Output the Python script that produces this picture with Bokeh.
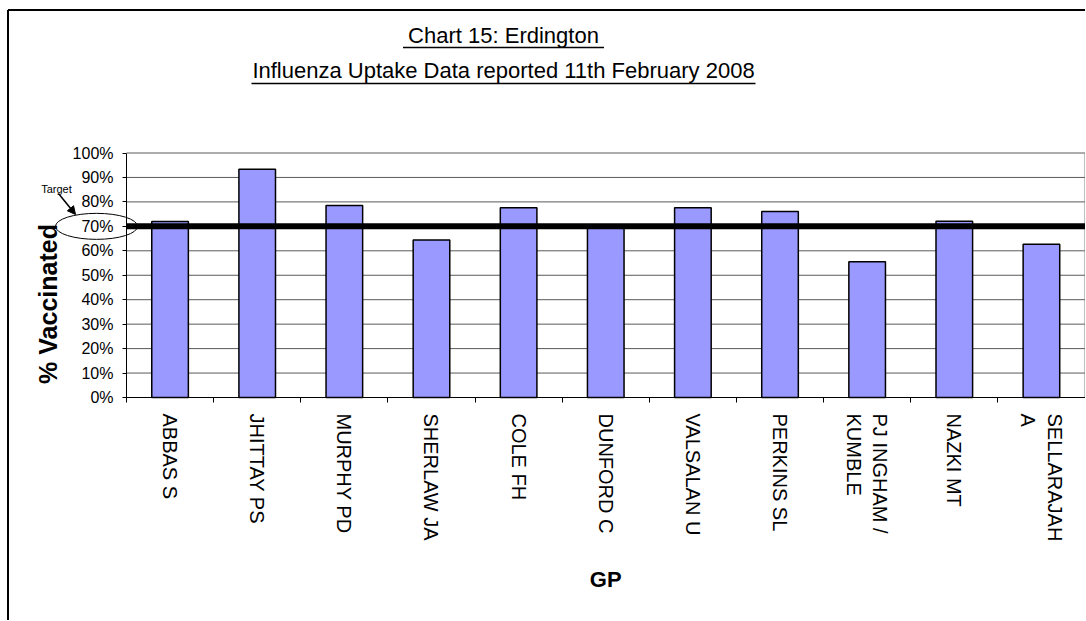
import math
from bokeh.plotting import figure
from bokeh.models import (ColumnDataSource, Range1d, LinearAxis, FixedTicker,
                          NumeralTickFormatter, Arrow, NormalHead)
from bokeh.core.properties import value
from bokeh.embed import file_html
from bokeh.resources import INLINE

# ---------------- data ----------------
title_text = "Chart 15: Erdington"
subtitle_text = "Influenza Uptake Data reported 11th February 2008"
gps = ["ABBAS S", "JHITTAY PS", "MURPHY PD", "SHERLAW JA", "COLE FH", "DUNFORD C",
       "VALSALAN U", "PERKINS SL", "PJ INGHAM /\nKUMBLE", "NAZKI MT", "SELLARAJAH\nA"]
uptake = [0.72, 0.934, 0.785, 0.644, 0.776, 0.705, 0.776, 0.761, 0.555, 0.721, 0.627]
target = 0.70
y_ticks = [0.0, 0.1, 0.2, 0.3, 0.4, 0.5, 0.6, 0.7, 0.8, 0.9, 1.0]
y_title = "% Vaccinated"
x_title = "GP"
target_text = "Target"

FONT = "Liberation Sans"

# ---------------- layout (page pixels; the canvas sits at the page origin) ----------------
W, H = 1085, 620
PX0, PX1 = 126, 1084.5      # page x of the plot area's left / right edges
PY0, PY1 = 397, 152.5       # page y of 0 % and 100 %
n = len(gps)
ux = (PX1 - PX0) / n
uy = (PY0 - PY1) / 1.0


def px(page_x):
    return (page_x - PX0) / ux


def py(page_y):
    return (PY0 - page_y) / uy


p = figure(width=W, height=H, x_range=Range1d(px(0), px(W)), y_range=Range1d(py(H), py(0)),
           x_axis_location=None, y_axis_location=None, output_backend="svg",
           toolbar_location=None, min_border=0, min_border_left=0, min_border_right=0,
           min_border_top=0, min_border_bottom=0)
p.outline_line_color = None
p.background_fill_color = "white"
p.border_fill_color = "white"
p.grid.visible = False

centers = [i + 0.5 for i in range(n)]
bounds = [float(i) for i in range(n + 1)]

# gridlines and right edge of the plot area
p.segment(x0=0, x1=n, y0=y_ticks[1:], y1=y_ticks[1:], line_color="#5a5a5a", line_width=1)
p.segment(x0=[n], x1=[n], y0=[0], y1=[1], line_color="#808080", line_width=1)

# bars
src = ColumnDataSource(dict(x=centers, uptake=uptake))
p.vbar(x="x", top="uptake", width=0.42, source=src, fill_color="#9999FF",
       line_color="black", line_width=1.5)

# target line
p.segment(x0=[0], x1=[n], y0=[target], y1=[target], line_color="black", line_width=6)

# y axis
yax = LinearAxis(fixed_location=0, bounds=(0, 1), ticker=FixedTicker(ticks=y_ticks),
                 formatter=NumeralTickFormatter(format="0%"),
                 major_tick_out=4, major_tick_in=0, minor_tick_line_color=None,
                 major_label_standoff=9, major_label_text_font=FONT,
                 major_label_text_font_size="16px", major_label_text_color="black",
                 axis_line_color="black", major_tick_line_color="black")
p.add_layout(yax, "left")

# x axis: tick marks between categories
axA = LinearAxis(fixed_location=0, bounds=(0, n), ticker=FixedTicker(ticks=bounds),
                 major_label_overrides={b: "" for b in bounds},
                 major_tick_out=5, major_tick_in=0, minor_tick_line_color=None,
                 major_label_text_font_size="1px", axis_line_color="black",
                 major_tick_line_color="black")
p.add_layout(axA, "below")
# x axis: category names
axB = LinearAxis(fixed_location=0, bounds=(0, n), ticker=FixedTicker(ticks=centers),
                 major_label_overrides=dict(zip(centers, gps)),
                 axis_line_color=None, major_tick_line_color=None,
                 minor_tick_line_color=None, major_tick_out=0, major_tick_in=0,
                 major_label_orientation=-math.pi / 2, major_label_standoff=16,
                 major_label_text_font=FONT, major_label_text_font_size="20px",
                 major_label_text_color="black")
p.add_layout(axB, "below")

# axis titles
p.text(x=[n / 2], y=[py(579)], text=[x_title], text_font=value(FONT),
       text_font_size="22px", text_font_style="bold", text_align="center",
       text_baseline="middle", text_color="black")
p.text(x=[px(47.5)], y=[py(303.5)], text=[y_title], angle=math.pi / 2,
       text_font=value(FONT), text_font_size="25px", text_font_style="bold",
       text_align="center", text_baseline="middle", text_color="black")

# chart title with underlines
title_cx = px(503)
p.text(x=[title_cx, title_cx], y=[py(35), py(70)], text=[title_text, subtitle_text],
       text_font=value(FONT), text_font_size="22px", text_align="center",
       text_baseline="middle", text_color="black")
p.segment(x0=[px(503 - 100.5), px(503 - 252)], x1=[px(503 + 100.5), px(503 + 252)],
          y0=[py(47), py(83)], y1=[py(47), py(83)], line_color="black", line_width=1.5)

# target annotation
p.text(x=[px(56)], y=[py(188)], text=[target_text], text_font=value(FONT),
       text_font_size="11px", text_align="center", text_baseline="middle",
       text_color="black")
p.add_layout(Arrow(end=NormalHead(size=8, fill_color="black", line_color="black"),
                   x_start=px(58), y_start=py(193), x_end=px(75), y_end=py(214),
                   line_color="black", line_width=1.5))
p.ellipse(x=[px(96)], y=[target], width=82, height=26, width_units="screen",
          height_units="screen", fill_alpha=0, line_color="black", line_width=1)

# outer chart border (left and top)
p.segment(x0=[px(7.5), px(7.5)], x1=[px(7.5), px(W)], y0=[py(9.5), py(9.5)],
          y1=[py(H), py(9.5)], line_color="black", line_width=2)

open("out.html", "w").write(file_html(p, INLINE))
